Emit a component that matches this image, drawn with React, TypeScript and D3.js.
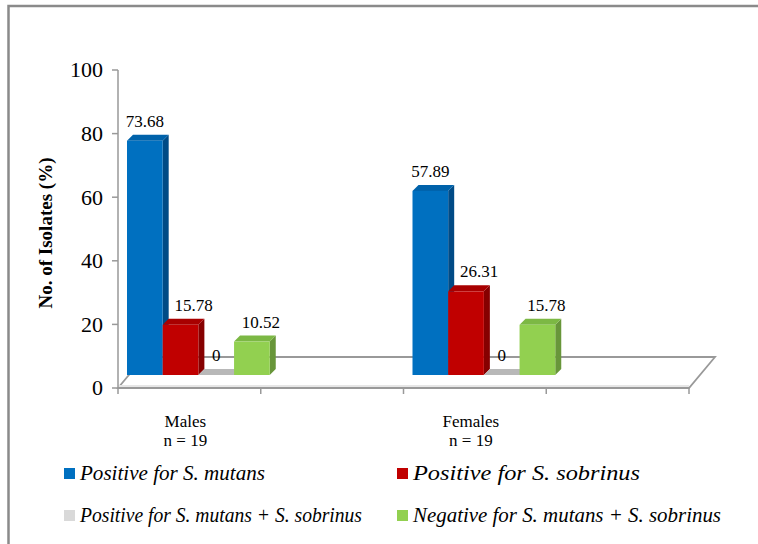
import React from "react";
import * as d3 from "d3";

const categories = ["Males", "", "Females", ""];
const categorySub = ["n = 19", "", "n = 19", ""];
const seriesNames = [
  "Positive for S. mutans",
  "Positive for S. sobrinus",
  "Positive for S. mutans + S. sobrinus",
  "Negative for S. mutans + S. sobrinus",
];
const males = [73.68, 15.78, 0, 10.52];
const females = [57.89, 26.31, 0, 15.78];
const valueLabels = [
  ["73.68", "15.78", "0", "10.52"],
  ["57.89", "26.31", "0", "15.78"],
];
const yTicks = [0, 20, 40, 60, 80, 100];

const frontColors = ["#0070C0", "#C00000", "#A6A6A6", "#92D050"];
const sideColors = ["#004B86", "#860000", "#8A8A8A", "#68963A"];
const topColors = ["#0062AA", "#A80000", "#B8B8B8", "#7CB844"];
const legendColors = ["#0070C0", "#C00000", "#D9D9D9", "#92D050"];
const labelShift = [0, 13, 0, 9];

const FONT = '"Liberation Serif"';

export default function App() {
  const x = d3.scaleBand().domain(d3.range(4).map(String)).range([118, 689]).padding(0);
  const y = d3.scaleLinear().domain([0, 100]).range([388, 70]);
  const inner = d3.scaleBand().domain(d3.range(4).map(String)).range([0, x.bandwidth()]).padding(0);

  const barDx = 9;
  const barDy = -13;
  const dep = 6;
  const floorDx = 26;
  const floorDy = -31;

  const groups = [
    { cat: 0, values: males, labels: valueLabels[0] },
    { cat: 2, values: females, labels: valueLabels[1] },
  ];

  const x0 = x.range()[0];
  const x1 = x.range()[1];
  const yb = y(0);
  const ts = { fontFamily: FONT } as React.CSSProperties;
  const tsb = { fontFamily: FONT, fontWeight: "bold" } as React.CSSProperties;
  const tsi = { fontFamily: FONT, fontStyle: "italic" } as React.CSSProperties;

  return (
    <svg width={758} height={544} style={{ position: "absolute", left: 0, top: 0, background: "#fff" }}>
      <rect x={8.5} y={6} width={800} height={600} fill="#fff" stroke="#8a8a8a" strokeWidth={2.5} />

      {/* floor */}
      <polygon
        points={`${x0},${yb} ${x1},${yb} ${x1 + floorDx},${yb + floorDy} ${x0 + floorDx},${yb + floorDy}`}
        fill="#ffffff"
        stroke="#999"
        strokeWidth={1.8}
      />
      <line x1={x0} x2={x1} y1={yb - 2} y2={yb - 2} stroke="#e6e6e6" strokeWidth={2} />

      {/* y axis */}
      <line x1={118} x2={118} y1={y(100)} y2={y(0)} stroke="#999" strokeWidth={1.5} />
      {yTicks.map((t) => (
        <g key={t}>
          <line x1={112} x2={118} y1={y(t)} y2={y(t)} stroke="#999" strokeWidth={1.5} />
          <text x={103} y={y(t)} dy="0.34em" textAnchor="end" style={ts} fontSize={22} fill="#000">
            {t}
          </text>
        </g>
      ))}

      {/* x ticks */}
      {[...x.domain().map((d) => x(d) as number), x1].map((px, i) => (
        <line key={i} x1={px} x2={px} y1={yb} y2={yb + 6} stroke="#999" strokeWidth={1.5} />
      ))}

      {/* bars */}
      {groups.map((g) =>
        g.values.map((v, s) => {
          const bx = (x(String(g.cat)) as number) + (inner(String(s)) as number) + barDx;
          const w = inner.bandwidth();
          const base = yb + barDy;
          const top = y(v) + barDy;
          return (
            <g key={`${g.cat}-${s}`}>
              <polygon
                points={`${bx + w},${top} ${bx + w + dep},${top - dep} ${bx + w + dep},${base - dep} ${bx + w},${base}`}
                fill={sideColors[s]}
              />
              <polygon
                points={`${bx},${top} ${bx + dep},${top - dep} ${bx + w + dep},${top - dep} ${bx + w},${top}`}
                fill={topColors[s]}
              />
              {v > 0 && <rect x={bx} y={top} width={w} height={base - top} fill={frontColors[s]} />}
              <text
                x={bx + w / 2 + labelShift[s]}
                y={top - 14}
                textAnchor="middle"
                style={ts}
                fontSize={17}
                fill="#000"
              >
                {g.labels[s]}
              </text>
            </g>
          );
        })
      )}

      {/* category labels */}
      {categories.map((c, i) =>
        c ? (
          <g key={i}>
            <text
              x={(x(String(i)) as number) + x.bandwidth() / 2 - 4}
              y={427}
              textAnchor="middle"
              style={ts}
              fontSize={17}
              fill="#000"
            >
              {c}
            </text>
            <text
              x={(x(String(i)) as number) + x.bandwidth() / 2 - 4}
              y={446}
              textAnchor="middle"
              style={ts}
              fontSize={17}
              fill="#000"
            >
              {categorySub[i]}
            </text>
          </g>
        ) : null
      )}

      {/* y title */}
      <text
        transform="translate(52,233) rotate(-90)"
        textAnchor="middle"
        style={tsb}
        fontSize={19}
        fill="#000"
      >
        No. of Isolates (%)
      </text>

      {/* legend */}
      {seriesNames.map((name, i) => {
        const col = i % 2;
        const row = Math.floor(i / 2);
        const lx = col === 0 ? 64 : 397;
        const ly = row === 0 ? 468 : 510;
        const widths = [185, 227, 282, 308];
        return (
          <g key={name}>
            <rect x={lx} y={ly} width={11} height={11} fill={legendColors[i]} />
            <text
              x={lx + 16}
              y={ly + 12}
              style={tsi}
              fontSize={21}
              textLength={widths[i]}
              lengthAdjust="spacingAndGlyphs"
              fill="#000"
            >
              {name}
            </text>
          </g>
        );
      })}
    </svg>
  );
}
